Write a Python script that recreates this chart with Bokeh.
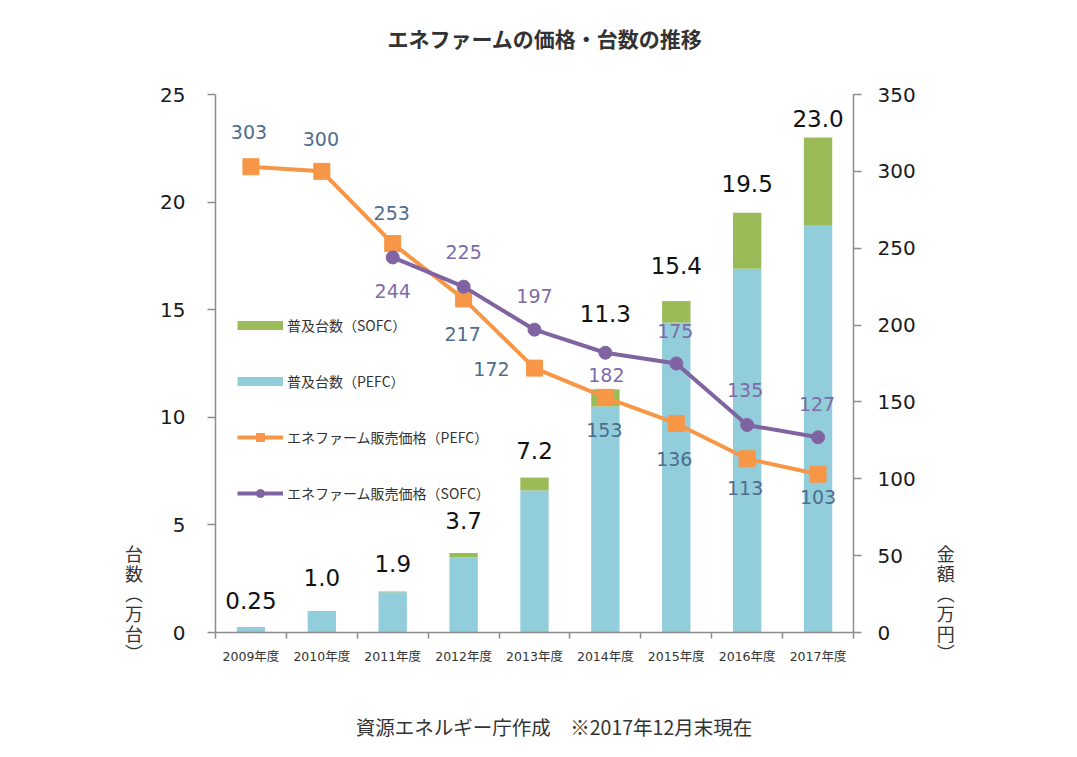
from bokeh.plotting import figure
from bokeh.models import (Range1d, LinearAxis, FixedTicker, ColumnDataSource,
                          Legend, LegendItem)
from bokeh.core.properties import value
from bokeh.embed import file_html
from bokeh.resources import INLINE

# ---------------- data ----------------
years = ["2009年度", "2010年度", "2011年度", "2012年度", "2013年度",
         "2014年度", "2015年度", "2016年度", "2017年度"]
units_pefc = [0.25, 1.0, 1.87, 3.5, 6.6, 10.5, 14.4, 16.9, 18.9]
units_sofc = [0.0, 0.0, 0.03, 0.2, 0.6, 0.8, 1.0, 2.6, 4.1]
units_total = [0.25, 1.0, 1.9, 3.7, 7.2, 11.3, 15.4, 19.5, 23.0]
units_total_text = ["0.25", "1.0", "1.9", "3.7", "7.2", "11.3", "15.4", "19.5", "23.0"]
price_pefc = [303, 300, 253, 217, 172, 153, 136, 113, 103]
sofc_years = ["2011年度", "2012年度", "2013年度", "2014年度",
              "2015年度", "2016年度", "2017年度"]
price_sofc = [244, 225, 197, 182, 175, 135, 127]

title_text = "エネファームの価格・台数の推移"
footer_text = "資源エネルギー庁作成　※2017年12月末現在"

# ---------------- label placement (screen px offsets) ----------------
bar_label_dy = [-27, -33, -28, -32, -27, -76, -36, -29, -19]
pefc_label_dx = [-2, -1, -1, -1, -43, -1, -2, -2, 0]
pefc_label_dy = [-35, -32, -31, 35, 1, 33, 36, 29, 23]
sofc_label_dx = [0, 0, 0, 1, -1, -2, -1]
sofc_label_dy = [34, -35, -34, 22, -33, -35, -33]

BLUE = "#92CDDC"
GREEN = "#9BBB59"
ORANGE = "#F79646"
PURPLE = "#8064A2"
AXIS = "#8C8C8C"
NUM_FONT = "DejaVu Sans, Noto Sans CJK JP"
JP_FONT = "Noto Sans CJK JP"
NAN = float("nan")

idx = {y: i for i, y in enumerate(years)}
xs = [idx[y] for y in years]
xs_sofc = [idx[y] for y in sofc_years]

bars = ColumnDataSource(dict(x=xs, pefc=units_pefc, sofc=units_sofc,
                             total=units_total, label=units_total_text,
                             dy=bar_label_dy))
pefc_src = ColumnDataSource(dict(x=xs, price=price_pefc,
                                 label=[str(v) for v in price_pefc],
                                 dx=pefc_label_dx, dy=pefc_label_dy))
sofc_src = ColumnDataSource(dict(x=xs_sofc, price=price_sofc,
                                 label=[str(v) for v in price_sofc],
                                 dx=sofc_label_dx, dy=sofc_label_dy))

p = figure(width=1077, height=757, output_backend="svg", toolbar_location=None,
           x_range=Range1d(-0.5, len(years) - 0.5), y_range=Range1d(0, 25),
           min_border_left=215, min_border_right=224,
           min_border_top=94, min_border_bottom=125)
p.outline_line_color = None
p.xgrid.grid_line_color = None
p.ygrid.grid_line_color = None
p.extra_y_ranges = {"price": Range1d(0, 350)}

# stacked bars
rs = p.vbar_stack(["pefc", "sofc"], x="x", width=0.4, color=[BLUE, GREEN],
                  line_color=None, source=bars)

# price lines
l1 = p.line("x", "price", source=pefc_src, y_range_name="price",
            line_color=ORANGE, line_width=4)
m1 = p.scatter("x", "price", source=pefc_src, y_range_name="price",
               marker="square", size=16, fill_color=ORANGE, line_color=ORANGE)
l2 = p.line("x", "price", source=sofc_src, y_range_name="price",
            line_color=PURPLE, line_width=4)
m2 = p.scatter("x", "price", source=sofc_src, y_range_name="price",
               marker="circle", size=13, fill_color=PURPLE, line_color=PURPLE)

# value labels
p.text(x="x", y="total", text="label", source=bars, y_offset="dy",
       text_align="center", text_baseline="middle",
       text_font=value("DejaVu Sans"), text_font_size="23px", text_color="#111111")
p.text(x="x", y="price", text="label", source=pefc_src, y_range_name="price",
       x_offset="dx", y_offset="dy", text_align="center", text_baseline="middle",
       text_font=value("DejaVu Sans"), text_font_size="19px", text_color="#4E6D8E")
p.text(x="x", y="price", text="label", source=sofc_src, y_range_name="price",
       x_offset="dx", y_offset="dy", text_align="center", text_baseline="middle",
       text_font=value("DejaVu Sans"), text_font_size="19px", text_color="#7F6AA8")

# axes
def style_axis(ax):
    ax.axis_line_color = AXIS
    ax.axis_line_width = 1.5
    ax.major_tick_line_color = AXIS
    ax.major_tick_line_width = 1.5
    ax.major_tick_in = 0
    ax.major_tick_out = 8
    ax.minor_tick_line_color = None
    ax.major_label_text_color = "#1a1a1a"
    ax.major_label_text_font = NUM_FONT
    ax.major_label_text_font_size = "20px"

def style_axis_title(ax, text, standoff):
    ax.axis_label = text
    ax.axis_label_orientation = "horizontal"
    ax.axis_label_text_font = JP_FONT
    ax.axis_label_text_font_size = "18px"
    ax.axis_label_text_font_style = "normal"
    ax.axis_label_text_color = "#333333"
    ax.axis_label_text_line_height = 0.76
    ax.axis_label_standoff = standoff
    if "axis_label_align" in ax.properties():
        ax.axis_label_align = "start"

xa = p.xaxis[0]
style_axis(xa)
xa.ticker = FixedTicker(ticks=xs, minor_ticks=[i - 0.5 for i in range(len(years) + 1)])
xa.major_label_overrides = {i: y for i, y in enumerate(years)}
xa.major_tick_line_color = None
xa.major_tick_out = 6
xa.minor_tick_line_color = AXIS
xa.minor_tick_line_width = 1.5
xa.minor_tick_in = 0
xa.minor_tick_out = 6
xa.major_label_standoff = 10
xa.major_label_text_font_size = "12.5px"
xa.major_label_text_color = "#333333"
# footer note carried as the bottom axis' label
xa.axis_label = "　　" + footer_text
xa.axis_label_standoff = 45
xa.axis_label_text_font = JP_FONT
xa.axis_label_text_font_size = "19.5px"
xa.axis_label_text_font_style = "normal"
xa.axis_label_text_color = "#333333"

ya = p.yaxis[0]
style_axis(ya)
ya.ticker = FixedTicker(ticks=[0, 5, 10, 15, 20, 25])
ya.major_label_standoff = 22
style_axis_title(ya, "台\n数\n︵\n万\n台\n︶\n\n\n", 14)

ra = LinearAxis(y_range_name="price", ticker=FixedTicker(ticks=list(range(0, 351, 50))))
style_axis(ra)
ra.major_label_standoff = 16
style_axis_title(ra, "金\n額\n︵\n万\n円\n︶\n\n\n", 18)
p.add_layout(ra, "right")

# chart title carried as the label of a bare top axis
ta = LinearAxis(ticker=FixedTicker(ticks=[]))
ta.axis_line_color = None
ta.major_tick_line_color = None
ta.minor_tick_line_color = None
ta.major_tick_out = 0
ta.major_tick_in = 0
ta.minor_tick_out = 0
ta.minor_tick_in = 0
ta.major_label_standoff = 0
ta.axis_label = "　" + title_text
ta.axis_label_standoff = 42
ta.axis_label_text_font = JP_FONT
ta.axis_label_text_font_size = "21px"
ta.axis_label_text_font_style = "bold"
ta.axis_label_text_color = "#333333"
p.add_layout(ta, "above")

# legend (swatch renderers carry no visible data; they only provide the legend glyphs)
sw_sofc = p.line(x=[NAN], y=[NAN], line_color=GREEN, line_width=9)
sw_pefc = p.line(x=[NAN], y=[NAN], line_color=BLUE, line_width=9)
legend = Legend(items=[
    LegendItem(label="普及台数（SOFC）", renderers=[sw_sofc]),
    LegendItem(label="普及台数（PEFC）", renderers=[sw_pefc]),
    LegendItem(label="エネファーム販売価格（PEFC）", renderers=[l1, m1]),
    LegendItem(label="エネファーム販売価格（SOFC）", renderers=[l2, m2]),
], location=(22, 129), orientation="vertical",
    glyph_width=46, glyph_height=20, label_height=20, spacing=36,
    padding=0, margin=0, label_standoff=4,
    border_line_color=None, background_fill_alpha=0,
    label_text_font=JP_FONT, label_text_font_size="14px",
    label_text_color="#333333")
p.add_layout(legend)

open("out.html", "w").write(file_html(p, INLINE))
